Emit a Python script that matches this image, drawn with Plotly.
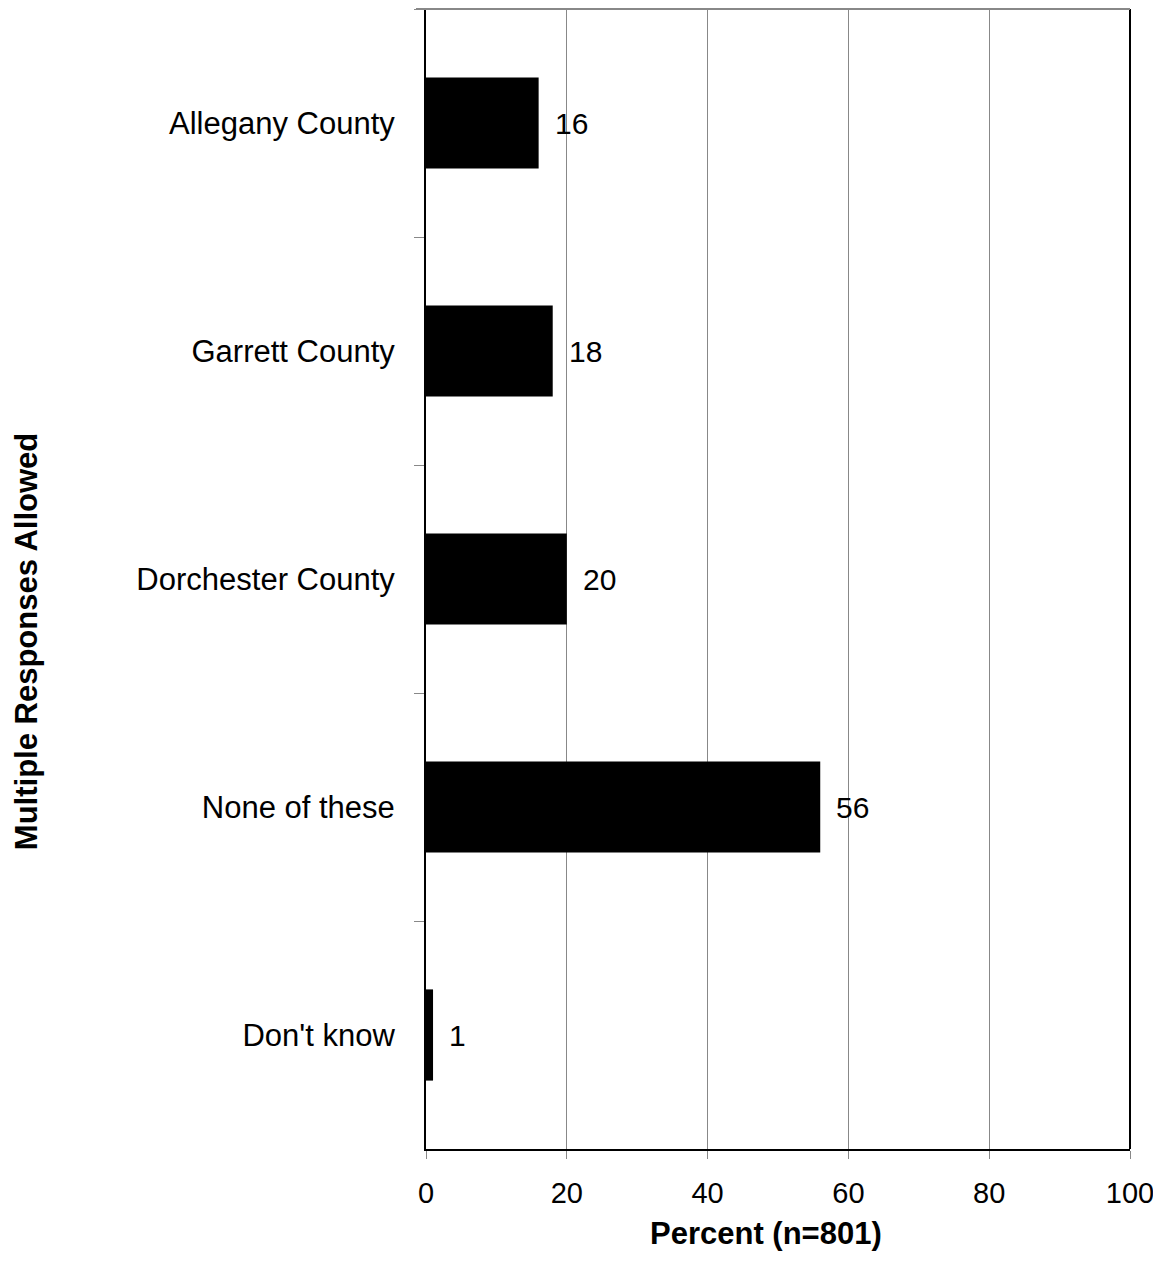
import plotly.graph_objects as go

categories = ["Allegany County", "Garrett County", "Dorchester County", "None of these", "Don't know"]
values = [16, 18, 20, 56, 1]
x_ticks = [0, 20, 40, 60, 80, 100]

FONT = "Liberation Sans, Arial, sans-serif"
FS = 31
FS_NUM = 29

fig = go.Figure(go.Bar(
    y=categories, x=values, orientation="h",
    marker=dict(color="black", line=dict(width=0)),
    width=0.4, hoverinfo="x+y",
))

for c, v in zip(categories, values):
    fig.add_annotation(x=v, y=c, text=str(v), xanchor="left", yanchor="middle",
                       xshift=14, showarrow=False,
                       font=dict(family=FONT, size=30, color="black"))

# axis titles
fig.add_annotation(xref="paper", yref="paper", x=0.483, y=0, yshift=-84,
                   xanchor="center", yanchor="middle", showarrow=False,
                   text="<b>Percent (n=801)</b>", font=dict(family=FONT, size=FS, color="black"))
fig.add_annotation(xref="paper", yref="paper", x=-0.568, y=0.4447, textangle=-90,
                   xanchor="center", yanchor="middle", showarrow=False,
                   text="<b>Multiple Responses Allowed</b>", font=dict(family=FONT, size=FS, color="black"))

fig.update_layout(
    width=1153, height=1250,
    margin=dict(l=418, r=31, t=1, b=109),
    plot_bgcolor="white", paper_bgcolor="white",
    showlegend=False,
    font=dict(family=FONT, size=FS, color="black"),
    xaxis=dict(
        range=[0, 100], tickvals=x_ticks, showgrid=True, gridcolor="#888888", gridwidth=1,
        zeroline=False, showline=True, linecolor="black", linewidth=2,
        ticks="outside", ticklen=8, tickcolor="#888888", ticklabeloverflow="allow",
        tickfont=dict(size=FS_NUM), ticklabelstandoff=9, fixedrange=True,
    ),
    yaxis=dict(
        categoryorder="array", categoryarray=categories, autorange="reversed",
        showline=True, linecolor="black", linewidth=2,
        ticks="outside", ticklen=10, tickcolor="#888888", tickson="boundaries",
        tickfont=dict(size=FS), ticklabelstandoff=23,
        showgrid=False, fixedrange=True,
    ),
)

fig.add_shape(type="line", xref="paper", yref="paper", x0=1, x1=1, y0=0, y1=1,
              line=dict(color="black", width=2))
fig.add_shape(type="line", xref="paper", yref="paper", x0=-0.0142, x1=1, y0=1, y1=1,
              line=dict(color="#888888", width=2))

fig.write_html("out.html")
